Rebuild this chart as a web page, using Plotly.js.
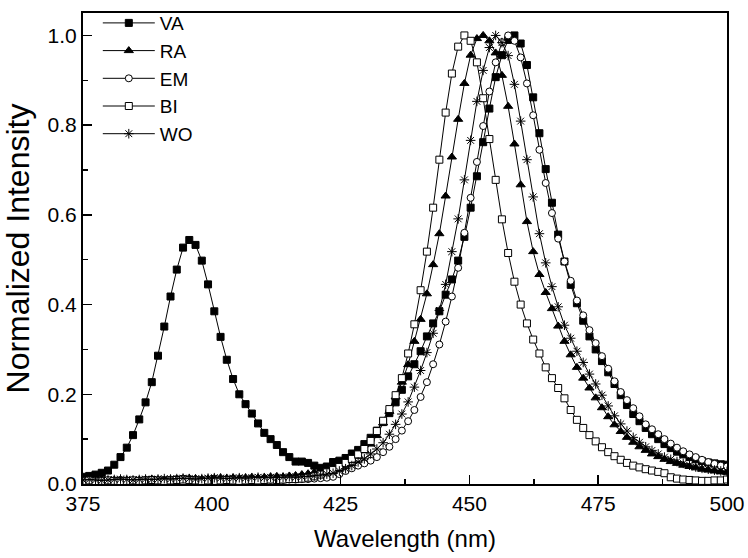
<!DOCTYPE html>
<html>
<head>
<meta charset="utf-8">
<script src="https://cdn.plot.ly/plotly-3.0.1.min.js"></script>
<style>html,body{margin:0;padding:0;background:#fff;}#chart{width:748px;height:558px;}</style>
</head>
<body>
<div id="chart"></div>
<script>
const wavelength = [375.00,376.21,377.43,378.64,379.85,381.07,382.28,383.50,384.71,385.92,
387.14,388.35,389.56,390.78,391.99,393.20,394.42,395.63,396.84,398.06,
399.27,400.49,401.70,402.91,404.13,405.34,406.55,407.77,408.98,410.19,
411.41,412.62,413.83,415.05,416.26,417.48,418.69,419.90,421.12,422.33,
423.54,424.76,425.97,427.18,428.40,429.61,430.83,432.04,433.25,434.47,
435.68,436.89,438.11,439.32,440.53,441.75,442.96,444.17,445.39,446.60,
447.82,449.03,450.24,451.46,452.67,453.88,455.10,456.31,457.52,458.74,
459.95,461.17,462.38,463.59,464.81,466.02,467.23,468.45,469.66,470.87,
472.09,473.30,474.51,475.73,476.94,478.16,479.37,480.58,481.80,483.01,
484.22,485.44,486.65,487.86,489.08,490.29,491.50,492.72,493.93,495.15,
496.36,497.57,498.79,500.00];

const VA = [0.016,0.018,0.021,0.025,0.030,0.043,0.060,0.081,0.109,0.144,
0.182,0.227,0.286,0.351,0.418,0.478,0.527,0.544,0.533,0.498,
0.445,0.385,0.328,0.277,0.234,0.200,0.178,0.157,0.135,0.114,
0.100,0.087,0.071,0.060,0.050,0.050,0.047,0.041,0.036,0.039,
0.049,0.052,0.058,0.068,0.076,0.089,0.103,0.119,0.138,0.158,
0.182,0.210,0.240,0.267,0.296,0.329,0.358,0.385,0.422,0.456,
0.498,0.551,0.616,0.686,0.762,0.837,0.907,0.956,0.990,1.000,
0.982,0.934,0.862,0.782,0.702,0.627,0.556,0.496,0.444,0.403,
0.364,0.329,0.300,0.274,0.249,0.223,0.198,0.176,0.156,0.140,
0.125,0.111,0.100,0.089,0.080,0.072,0.066,0.060,0.055,0.051,
0.048,0.046,0.044,0.043];

const RA = [0.010,0.009,0.010,0.011,0.008,0.009,0.010,0.009,0.008,0.009,
0.010,0.011,0.010,0.009,0.010,0.011,0.012,0.013,0.012,0.011,
0.012,0.013,0.014,0.013,0.014,0.013,0.014,0.015,0.014,0.015,
0.016,0.017,0.016,0.018,0.019,0.021,0.023,0.026,0.029,0.032,
0.036,0.040,0.046,0.053,0.062,0.074,0.089,0.108,0.136,0.162,
0.194,0.227,0.266,0.318,0.367,0.424,0.489,0.558,0.642,0.729,
0.813,0.893,0.956,0.993,1.000,0.988,0.961,0.911,0.842,0.758,
0.667,0.585,0.518,0.467,0.427,0.391,0.352,0.318,0.288,0.260,
0.236,0.214,0.192,0.170,0.150,0.132,0.117,0.104,0.093,0.083,
0.075,0.067,0.061,0.055,0.050,0.046,0.042,0.039,0.036,0.033,
0.031,0.029,0.027,0.026];

const EM = [0.008,0.007,0.008,0.007,0.006,0.007,0.008,0.007,0.006,0.007,
0.008,0.009,0.008,0.009,0.010,0.011,0.012,0.011,0.010,0.009,
0.008,0.009,0.008,0.009,0.010,0.009,0.008,0.009,0.008,0.009,
0.009,0.010,0.009,0.010,0.010,0.011,0.011,0.012,0.013,0.014,
0.016,0.022,0.029,0.035,0.041,0.046,0.052,0.060,0.071,0.083,
0.100,0.119,0.140,0.165,0.194,0.227,0.267,0.311,0.362,0.418,
0.482,0.560,0.638,0.718,0.798,0.875,0.940,0.985,1.000,0.988,
0.951,0.893,0.822,0.745,0.671,0.604,0.547,0.496,0.453,0.409,
0.376,0.343,0.314,0.285,0.257,0.229,0.205,0.187,0.169,0.151,
0.133,0.122,0.111,0.100,0.090,0.081,0.073,0.066,0.060,0.054,
0.049,0.045,0.041,0.039];

const BI = [0.007,0.008,0.006,0.007,0.008,0.007,0.006,0.007,0.008,0.007,
0.008,0.009,0.008,0.007,0.008,0.009,0.010,0.009,0.008,0.007,
0.008,0.007,0.008,0.009,0.008,0.007,0.008,0.009,0.008,0.009,
0.010,0.009,0.010,0.011,0.011,0.012,0.014,0.017,0.021,0.026,
0.031,0.038,0.047,0.056,0.066,0.078,0.096,0.118,0.141,0.167,
0.198,0.236,0.291,0.356,0.432,0.518,0.616,0.723,0.828,0.915,
0.975,1.000,0.988,0.940,0.860,0.769,0.678,0.590,0.515,0.451,
0.400,0.358,0.322,0.291,0.260,0.236,0.214,0.191,0.165,0.143,
0.125,0.109,0.095,0.082,0.071,0.062,0.054,0.047,0.041,0.037,
0.033,0.030,0.027,0.024,0.015,0.012,0.010,0.009,0.008,0.007,
0.007,0.008,0.008,0.010];

const WO = [0.009,0.010,0.009,0.008,0.009,0.010,0.011,0.010,0.009,0.010,
0.011,0.010,0.011,0.012,0.011,0.012,0.013,0.012,0.011,0.012,
0.013,0.014,0.013,0.012,0.013,0.014,0.013,0.014,0.015,0.014,
0.015,0.014,0.015,0.016,0.015,0.016,0.017,0.018,0.020,0.022,
0.024,0.029,0.034,0.041,0.049,0.056,0.067,0.078,0.092,0.111,
0.133,0.156,0.183,0.216,0.253,0.293,0.336,0.387,0.445,0.518,
0.591,0.678,0.766,0.853,0.922,0.973,1.000,0.984,0.955,0.891,
0.809,0.723,0.640,0.558,0.493,0.440,0.395,0.354,0.325,0.296,
0.271,0.245,0.223,0.198,0.174,0.152,0.134,0.118,0.104,0.093,
0.083,0.075,0.067,0.060,0.055,0.050,0.046,0.042,0.038,0.035,
0.033,0.031,0.029,0.028];

const seriesNames = ['VA','RA','EM','BI','WO'];
const seriesData = [VA, RA, EM, BI, WO];
const symbols = ['square','triangle-up','circle','square','asterisk-open'];
const fills = ['#000000','#000000','#ffffff','#ffffff','#000000'];
const sizes = [7, 8, 7, 7, 8];

const traces = seriesNames.map((name, i) => ({
  type: 'scatter',
  mode: 'lines+markers',
  name: name,
  legendgroup: name,
  x: wavelength,
  y: seriesData[i],
  line: {color: '#000000', width: 1},
  marker: {symbol: symbols[i], size: sizes[i], color: fills[i], line: {color: '#000000', width: 1}}
}));

const FONT = 'Liberation Sans, Arial, Helvetica, sans-serif';

const layout = {
  width: 748, height: 558,
  margin: {l: 83, r: 21, t: 4, b: 74},
  paper_bgcolor: '#ffffff', plot_bgcolor: '#ffffff',
  font: {family: FONT, color: '#000000', size: 21},
  showlegend: true,
  legend: {
    x: 0.023, y: 1.019, xanchor: 'left', yanchor: 'top',
    bgcolor: 'rgba(0,0,0,0)', borderwidth: 0,
    font: {family: FONT, size: 19, color: '#000000'},
    itemwidth: 52, tracegroupgap: 0
  },
  xaxis: {
    range: [375, 500], tick0: 375, dtick: 25,
    ticks: 'inside', ticklen: 9, tickwidth: 1.5, tickcolor: '#000',
    minor: {dtick: 12.5, ticks: 'inside', ticklen: 5, tickwidth: 1.5, tickcolor: '#000'},
    showline: true, linewidth: 2, linecolor: '#000', mirror: true,
    showgrid: false, zeroline: false,
    tickfont: {family: FONT, size: 21},
    title: {text: 'Wavelength (nm)', font: {family: FONT, size: 24}, standoff: 16}
  },
  yaxis: {
    range: [0, 1.05], tick0: 0, dtick: 0.2, tickformat: '.1f',
    ticks: 'inside', ticklen: 9, tickwidth: 1.5, tickcolor: '#000',
    minor: {dtick: 0.1, ticks: 'inside', ticklen: 5, tickwidth: 1.5, tickcolor: '#000'},
    showline: true, linewidth: 2, linecolor: '#000', mirror: true,
    showgrid: false, zeroline: false,
    tickfont: {family: FONT, size: 21},
    title: {text: 'Normalized Intensity', font: {family: FONT, size: 32}, standoff: 26}
  }
};

Plotly.newPlot('chart', traces, layout, {displayModeBar: false, staticPlot: true});
</script>
</body>
</html>
